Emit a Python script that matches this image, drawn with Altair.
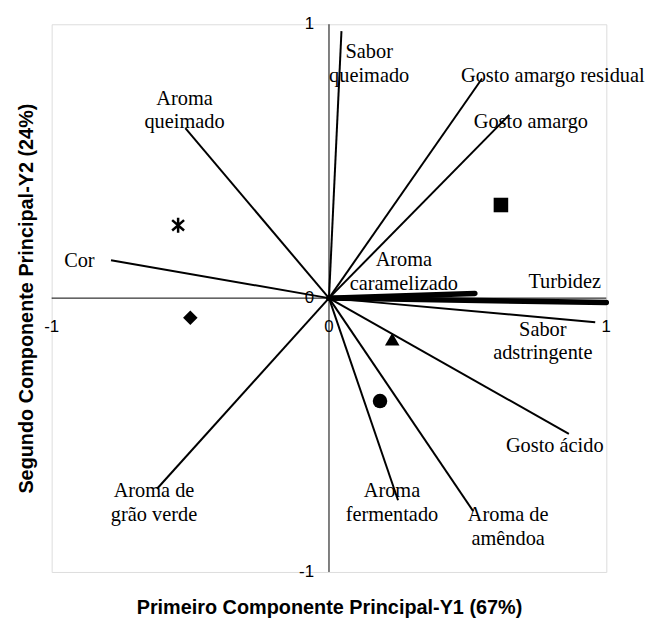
import altair as alt
import pandas as pd

# Variable loadings (vectors from the origin)
variables = ["Sabor queimado", "Gosto amargo residual", "Gosto amargo", "Aroma caramelizado",
             "Turbidez", "Sabor adstringente", "Gosto ácido", "Aroma de amêndoa",
             "Aroma fermentado", "Aroma de grão verde", "Cor", "Aroma queimado"]
var_y1 = [0.045, 0.552, 0.650, 0.526, 1.000, 0.960, 0.865, 0.520, 0.249, -0.620, -0.786, -0.518]
var_y2 = [0.975, 0.802, 0.669, 0.017, -0.016, -0.088, -0.496, -0.778, -0.738, -0.696, 0.138, 0.621]
thick_vars = ["Aroma caramelizado", "Turbidez"]

# Variable labels
label_text = ["Sabor\nqueimado", "Gosto amargo residual", "Gosto amargo", "Aroma\ncaramelizado",
              "Turbidez", "Sabor\nadstringente", "Gosto ácido", "Aroma de\namêndoa",
              "Aroma\nfermentado", "Aroma de\ngrão verde", "Cor", "Aroma\nqueimado"]
label_y1 = [0.145, 0.807, 0.728, 0.270, 0.850, 0.771, 0.814, 0.646, 0.227, -0.631, -0.900, -0.521]
label_y2 = [0.877, 0.790, 0.623, 0.116, 0.036, -0.137, -0.562, -0.815, -0.728, -0.728, 0.112, 0.707]

# Sample scores
samples = ["Amostra 1", "Amostra 2", "Amostra 3", "Amostra 4", "Amostra 5"]
sample_y1 = [-0.544, -0.500, 0.620, 0.228, 0.184]
sample_y2 = [0.266, -0.072, 0.340, -0.150, -0.376]

# Axis tick labels
tick_values = [-1, 0, 1]
tick_labels = ["-1", "0", "1"]

x_title = "Primeiro Componente Principal-Y1 (67%)"
y_title = "Segundo Componente Principal-Y2 (24%)"

vec_df = pd.DataFrame({"var": variables, "y1": var_y1, "y2": var_y2})
lab_df = pd.DataFrame({"label": label_text, "y1": label_y1, "y2": label_y2})
smp_df = pd.DataFrame({"amostra": samples, "y1": sample_y1, "y2": sample_y2})
tick_df = pd.DataFrame({"v": tick_values, "t": tick_labels})

xs = alt.Scale(domain=[-1, 1], nice=False, zero=False)
ys = alt.Scale(domain=[-1, 1], nice=False, zero=False)
xaxis = alt.Axis(title=x_title, labels=False, ticks=False, domain=False, grid=False,
                 titleFont="Liberation Sans", titleFontSize=20, titleFontWeight="bold",
                 titleColor="black", titlePadding=26)
yaxis = alt.Axis(title=y_title, labels=False, ticks=False, domain=False, grid=False,
                 titleFont="Liberation Sans", titleFontSize=20, titleFontWeight="bold",
                 titleColor="black", titlePadding=15)


def X(f):
    return alt.X(f, type="quantitative", scale=xs, axis=xaxis)


def Y(f):
    return alt.Y(f, type="quantitative", scale=ys, axis=yaxis)


thick_list = "[" + ",".join('"' + v + '"' for v in thick_vars) + "]"

base_zero = alt.Chart(tick_df).transform_calculate(zero="0")

# zero axes lines
hline = base_zero.transform_filter("datum.v == 0").transform_calculate(
    v_neg="-1", v_pos="1"
).mark_rule(color="black", strokeWidth=1).encode(
    x=X("v_neg:Q"), x2="v_pos:Q", y=Y("zero:Q")
)
vline = base_zero.transform_filter("datum.v == 0").transform_calculate(
    v_neg="-1", v_pos="1"
).mark_rule(color="black", strokeWidth=1).encode(
    y=Y("v_neg:Q"), y2="v_pos:Q", x=X("zero:Q")
)

vec_base = alt.Chart(vec_df).transform_calculate(o="0")
thin = vec_base.transform_filter(
    "indexof(" + thick_list + ", datum.var) < 0"
).mark_rule(color="black", strokeWidth=2).encode(
    x=X("o:Q"), y=Y("o:Q"), x2="y1:Q", y2="y2:Q"
)
thick = vec_base.transform_filter(
    "indexof(" + thick_list + ", datum.var) >= 0"
).mark_rule(color="black", strokeWidth=5.5, strokeCap="round").encode(
    x=X("o:Q"), y=Y("o:Q"), x2="y1:Q", y2="y2:Q"
)

labels = alt.Chart(lab_df).mark_text(
    font="Liberation Serif", fontSize=20.5, baseline="alphabetic", align="center",
    lineBreak="\n", lineHeight=24, color="black"
).encode(x=X("y1:Q"), y=Y("y2:Q"), text="label:N")

asterisk_path = "M0,-1L0,1M-0.8,-0.7L0.8,0.7M-0.8,0.7L0.8,-0.7"
star = alt.Chart(smp_df).transform_filter(alt.datum.amostra == samples[0]).mark_point(
    shape=asterisk_path, filled=False, stroke="black", strokeWidth=2.5, size=225, opacity=1
).encode(x=X("y1:Q"), y=Y("y2:Q"))

pts = alt.Chart(smp_df).transform_filter(alt.datum.amostra != samples[0]).mark_point(
    filled=True, color="black", opacity=1, size=215
).encode(
    x=X("y1:Q"), y=Y("y2:Q"),
    shape=alt.Shape("amostra:N", scale=alt.Scale(domain=samples[1:],
                    range=["diamond", "square", "triangle-up", "circle"]), legend=None)
)

ytick_text = base_zero.mark_text(
    font="Liberation Sans", fontSize=17, align="right", baseline="middle", dx=-15, color="black"
).encode(x=X("zero:Q"), y=Y("v:Q"), text="t:N")
xtick_text = base_zero.mark_text(
    font="Liberation Sans", fontSize=17, align="center", baseline="middle", dy=29, color="black"
).encode(x=X("v:Q"), y=Y("zero:Q"), text="t:N")

chart = alt.layer(hline, vline, thin, thick, labels, star, pts, ytick_text, xtick_text).properties(
    width=559, height=552,
    autosize=alt.AutoSizeParams(type="none"),
    padding={"left": 44, "top": 14, "right": 40, "bottom": 44},
).configure_view(stroke="black", strokeWidth=2).configure(background="white")

chart.save("out.html", embed_options={"renderer": "svg", "actions": False})
